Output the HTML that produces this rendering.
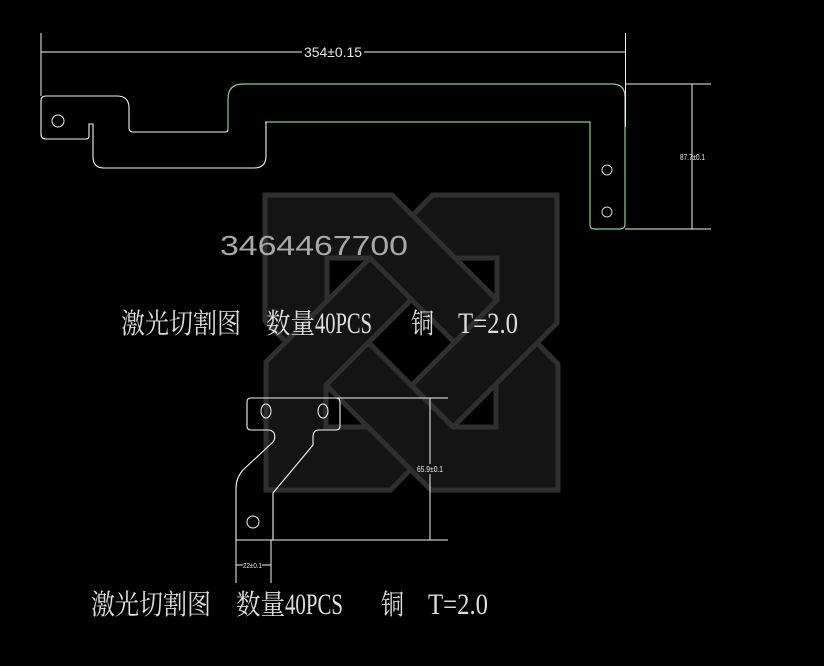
<!DOCTYPE html>
<html>
<head>
<meta charset="utf-8">
<style>
html,body{margin:0;padding:0;background:#000;}
body{width:824px;height:666px;overflow:hidden;}
svg{display:block;}
</style>
</head>
<body>
<svg width="824" height="666" viewBox="0 0 824 666" xmlns="http://www.w3.org/2000/svg">
<rect x="0" y="0" width="824" height="666" fill="#000"/>

<!-- watermark logo -->
<g fill="#141414" stroke="#2f2f2f" stroke-width="5" stroke-linejoin="miter">
  <polygon points="265,195 392,195 497,300 454.5,342.5 370,258 327,258 327,301 286,342 265,321"/>
  <polygon points="432.5,195 557,195 557,323 453,427 411.5,385.5 497,300 497,258 455,258 412.5,215.5"/>
  <polygon points="558,490 431,490 326,385 368.5,342.5 453,427 496,427 496,384 537,343 558,364"/>
  <polygon points="390.5,490 266,490 266,362 370,258 411.5,299.5 326,385 326,427 368,427 410.5,469.5"/>
</g>

<!-- top part: dimension lines -->
<g stroke="#f2f2f2" stroke-width="1" fill="none">
  <line x1="41" y1="33" x2="41" y2="96"/>
  <line x1="41" y1="52" x2="302" y2="52"/>
  <line x1="364" y1="52" x2="625" y2="52"/>
  <line x1="625" y1="84" x2="711" y2="84"/>
  <line x1="625" y1="229" x2="711" y2="229"/>
  <line x1="692" y1="84" x2="692" y2="229"/>
</g>

<!-- top part outline -->
<path d="M265,122 H590 V225 Q590,229 594,229 H620 Q625,229 625,224 V97 Q625,84 612,84 H243 Q228,84 228,99 V130"
      fill="none" stroke="#86d086" stroke-width="1.2"/>
<path d="M228,130 Q228,132 225,132 H133 Q129,132 129,128 V108 Q129,96 117,96 H46 Q41,96 41,101 V134 Q41,139 46,139 H86 Q89,139 89,136 V124 H93 V157 Q93,168 104,168 H254 Q266,168 266,156 V122"
      fill="none" stroke="#f2f2f2" stroke-width="1.1"/>
<line x1="625.5" y1="33" x2="625.5" y2="127" stroke="#f2f2f2" stroke-width="1"/>
<circle cx="58" cy="121" r="6" fill="none" stroke="#f2f2f2" stroke-width="1"/>
<circle cx="607" cy="170" r="5" fill="none" stroke="#bfe0bf" stroke-width="1"/>
<circle cx="607" cy="212" r="5" fill="none" stroke="#bfe0bf" stroke-width="1"/>

<text x="304" y="57" font-family="Liberation Sans, sans-serif" font-size="14" fill="#e8e8e8" textLength="58" lengthAdjust="spacingAndGlyphs">354±0.15</text>
<text x="680" y="160" font-family="Liberation Sans, sans-serif" font-size="8" fill="#f0f0f0" textLength="25" lengthAdjust="spacingAndGlyphs">87.7±0.1</text>

<!-- number -->
<text x="220" y="255" font-family="Liberation Sans, sans-serif" font-size="28" fill="#a8a8a8" textLength="188" lengthAdjust="spacingAndGlyphs">3464467700</text>

<!-- line 1 -->
<g fill="#dedede">
  <text x="121" y="333" font-family="Liberation Serif, 'Noto Serif CJK SC', serif" font-size="28" textLength="120" lengthAdjust="spacingAndGlyphs">激光切割图</text>
  <text x="266" y="333" font-family="Liberation Serif, 'Noto Serif CJK SC', serif" font-size="28" textLength="49" lengthAdjust="spacingAndGlyphs">数量</text>
  <text x="315" y="333" font-family="Liberation Serif, serif" font-size="30" textLength="57" lengthAdjust="spacingAndGlyphs">40PCS</text>
  <text x="411" y="333" font-family="Liberation Serif, 'Noto Serif CJK SC', serif" font-size="28" textLength="23" lengthAdjust="spacingAndGlyphs">铜</text>
  <text x="458" y="333" font-family="Liberation Serif, serif" font-size="30" textLength="60" lengthAdjust="spacingAndGlyphs">T=2.0</text>
</g>

<!-- lower part -->
<path d="M251,398 H336 Q340,398 340,402 V426 Q340,430 336,430 H319 Q313,430 313,437 V445 L273,493 V540 H236 V488 Q236,478 243,470 L273,442 Q276,438 274,433 Q272,430 268,430 H251 Q247,430 247,426 V402 Q247,398 251,398 Z"
      fill="none" stroke="#f2f2f2" stroke-width="1.1"/>
<ellipse cx="266" cy="411" rx="5" ry="7" fill="none" stroke="#f2f2f2" stroke-width="1"/>
<ellipse cx="323" cy="411" rx="5" ry="7" fill="none" stroke="#f2f2f2" stroke-width="1"/>
<circle cx="253" cy="522" r="6" fill="none" stroke="#f2f2f2" stroke-width="1"/>
<g stroke="#f2f2f2" stroke-width="1" fill="none">
  <line x1="336" y1="398" x2="448" y2="398"/>
  <line x1="236" y1="540" x2="448" y2="540"/>
  <line x1="430" y1="398" x2="430" y2="464"/>
  <line x1="430" y1="474" x2="430" y2="540"/>
  <line x1="236" y1="540" x2="236" y2="583"/>
  <line x1="271" y1="540" x2="271" y2="583"/>
  <line x1="236" y1="565" x2="243" y2="565"/>
  <line x1="262" y1="565" x2="271" y2="565"/>
</g>
<text x="417" y="472" font-family="Liberation Sans, sans-serif" font-size="8" fill="#f0f0f0" textLength="26" lengthAdjust="spacingAndGlyphs">65.9±0.1</text>
<text x="243" y="568" font-family="Liberation Sans, sans-serif" font-size="7" fill="#f0f0f0" textLength="19" lengthAdjust="spacingAndGlyphs">22±0.1</text>

<!-- line 2 -->
<g fill="#dedede">
  <text x="91" y="614" font-family="Liberation Serif, 'Noto Serif CJK SC', serif" font-size="28" textLength="120" lengthAdjust="spacingAndGlyphs">激光切割图</text>
  <text x="236" y="614" font-family="Liberation Serif, 'Noto Serif CJK SC', serif" font-size="28" textLength="49" lengthAdjust="spacingAndGlyphs">数量</text>
  <text x="285" y="614" font-family="Liberation Serif, serif" font-size="30" textLength="58" lengthAdjust="spacingAndGlyphs">40PCS</text>
  <text x="381" y="614" font-family="Liberation Serif, 'Noto Serif CJK SC', serif" font-size="28" textLength="23" lengthAdjust="spacingAndGlyphs">铜</text>
  <text x="428" y="614" font-family="Liberation Serif, serif" font-size="30" textLength="60" lengthAdjust="spacingAndGlyphs">T=2.0</text>
</g>
</svg>
</body>
</html>
